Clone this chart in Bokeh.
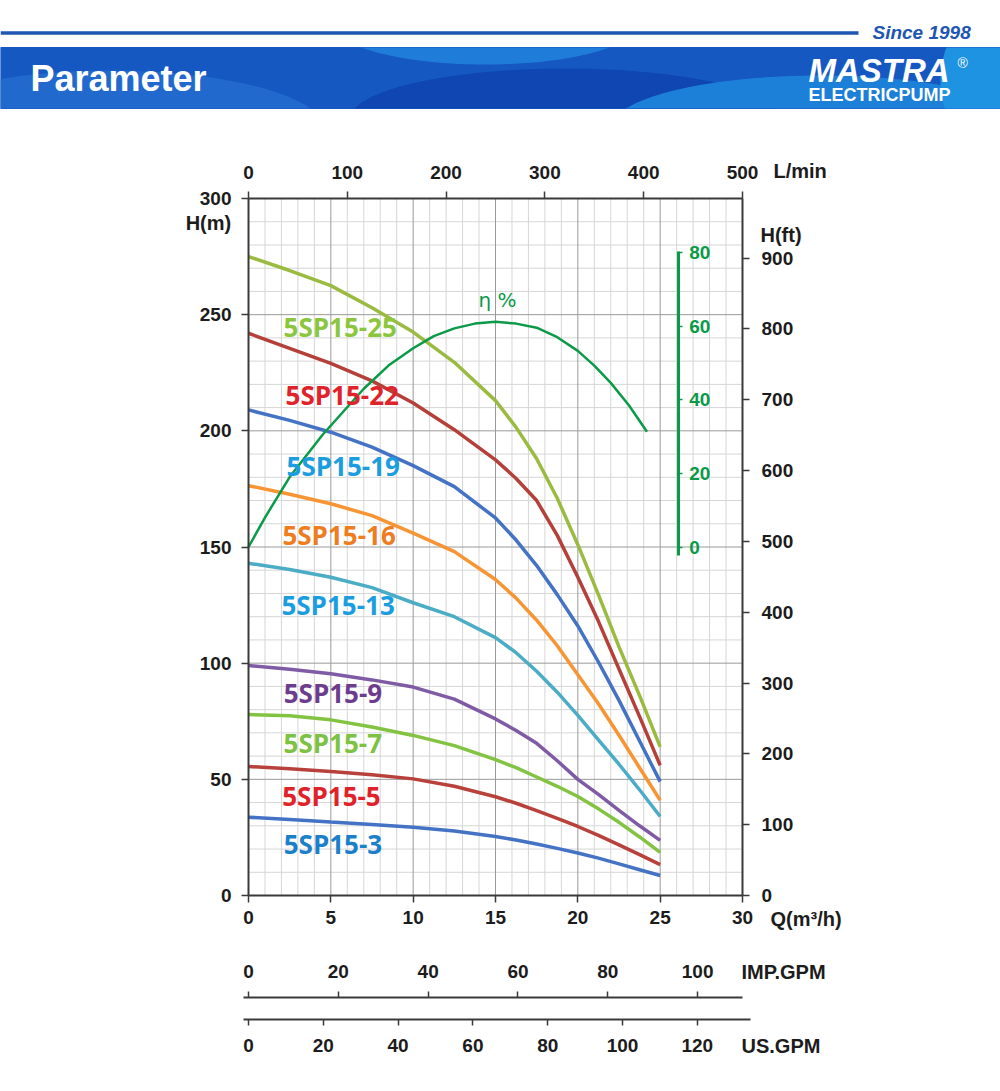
import numpy as np
from bokeh.plotting import figure
from bokeh.models import Range1d, LinearAxis, FixedTicker, ColumnDataSource
from bokeh.embed import file_html
from bokeh.resources import INLINE
from bokeh.core.properties import value

# ---------------- data ----------------
q = [0, 2.5, 5, 7.5, 10, 12.5, 15, 16.25, 17.5, 18.75, 20, 21.25, 22.5, 23.75, 25]
h_25 = [275, 269, 262.5, 253, 242.5, 229.5, 213, 201.5, 188, 171, 151, 129.5, 107, 86, 64]
h_22 = [242, 235.5, 229, 221.5, 212, 200.5, 187.5, 179.5, 170, 155, 137, 118, 97.5, 77, 56]
h_19 = [209, 204.5, 199.4, 193, 185, 176, 162.5, 153, 142, 129.5, 116, 100.5, 84, 66.5, 49]
h_16 = [176.4, 172.7, 168.6, 163.5, 156, 148, 136, 128, 118.5, 107.5, 95, 82.5, 69, 55, 41]
h_13 = [143, 140.3, 137, 132.5, 126, 120, 111, 104.5, 96.5, 87.5, 77.5, 67, 56.5, 45.5, 34]
h_9 = [99, 97.4, 95.4, 92.8, 89.7, 84.5, 76, 71, 65.5, 58, 50, 43.5, 36.6, 30, 23.7]
h_7 = [77.9, 77.4, 75.6, 72.5, 68.9, 64.5, 58.5, 55, 51, 47, 42.6, 37.3, 31.5, 25.2, 18.6]
h_5 = [55.5, 54.6, 53.4, 52, 50.2, 47, 42.5, 39.7, 36.5, 33.2, 29.7, 25.9, 21.8, 17.6, 13.3]
h_3 = [33.7, 32.7, 31.6, 30.6, 29.4, 27.8, 25.4, 23.9, 22.2, 20.3, 18.3, 16.1, 13.6, 11.1, 8.6]

models = ["5SP15-25", "5SP15-22", "5SP15-19", "5SP15-16", "5SP15-13",
          "5SP15-9", "5SP15-7", "5SP15-5", "5SP15-3"]
heads = [h_25, h_22, h_19, h_16, h_13, h_9, h_7, h_5, h_3]

q_eta = [0, 1, 2.5, 4.5, 7, 8.5, 10, 11.25, 12.5, 13.75, 15, 16.25, 17.5, 18.75, 20, 21, 22, 23.1, 24.2]
eta = [0, 8, 19, 30.5, 43, 49.3, 54, 57.3, 59.4, 60.7, 61.2, 60.7, 59.6, 57, 53.3, 49.3, 44.6, 38.5, 31.3]

q_ticks = [0, 5, 10, 15, 20, 25, 30]
q_minor = [v for v in range(0, 31) if v % 5]
h_ticks = [0, 50, 100, 150, 200, 250, 300]
h_minor = [v for v in range(0, 301, 10) if v % 50]
lmin_ticks = [0, 100, 200, 300, 400, 500]
ft_ticks = [0, 100, 200, 300, 400, 500, 600, 700, 800, 900]
eta_ticks = [0, 20, 40, 60, 80]
imp_ticks = [0, 20, 40, 60, 80, 100]
us_ticks = [0, 20, 40, 60, 80, 100, 120]

# ---------------- styles / layout ----------------
line_colors = ["#9BBB40", "#B5403A", "#4472C4", "#F79534", "#4BACC6",
               "#7F5BA6", "#82C341", "#B8413C", "#4472C4"]
label_colors = ["#8CC63F", "#E0232A", "#1B9DE0", "#EE7D1F", "#1B9DE0",
                "#6B3D8C", "#7DC242", "#E0232A", "#1C7FC9"]
label_x = [2.13, 2.25, 2.31, 2.06, 2.0, 2.14, 2.13, 2.05, 2.14]
label_y = [244.5, 215.6, 184.9, 155.3, 125.2, 87.0, 65.6, 43.0, 22.0]

ETA_GREEN = "#0A9A48"
AX = "#3a3a3a"
TXT = "#1c1c1c"
FONT = "Liberation Sans"

W, H = 1000, 1091
X0, X30 = 248.0, 742.0      # canvas x of Q = 0 and Q = 30
Y0, Y300 = 895.0, 198.0     # canvas y of H = 0 and H = 300
KX = (X30 - X0) / 30.0
KY = (Y0 - Y300) / 300.0
BAND_TOP, BAND_BOTTOM = 47, 108

M3H_PER_IMP = 4.54609 * 60 / 1000
M3H_PER_US = 3.785411784 * 60 / 1000
LMIN_PER_M3H = 1000 / 60
M_PER_ETA = 1.584
ETA_ZERO_M = 150.0


def q_at(px):
    return (px - X0) / KX


def h_at(py):
    return (Y0 - py) / KY


q_lo, q_hi = q_at(0), q_at(W)
h_lo, h_hi = h_at(H), h_at(0)

p = figure(width=W, height=H, x_range=Range1d(q_lo, q_hi), y_range=Range1d(h_lo, h_hi),
           x_axis_type=None, y_axis_type=None, min_border=0,
           output_backend="svg", toolbar_location=None, title=None)
p.outline_line_color = None
p.background_fill_color = "white"
p.border_fill_color = "white"
p.extra_x_ranges = {
    "lmin": Range1d(q_lo * LMIN_PER_M3H, q_hi * LMIN_PER_M3H),
    "imp": Range1d(q_lo / M3H_PER_IMP, q_hi / M3H_PER_IMP),
    "us": Range1d(q_lo / M3H_PER_US, q_hi / M3H_PER_US),
    "px": Range1d(0, W),
}
p.extra_y_ranges = {
    "ft": Range1d(h_lo / 0.3048, h_hi / 0.3048),
    "eta": Range1d((h_lo - ETA_ZERO_M) / M_PER_ETA, (h_hi - ETA_ZERO_M) / M_PER_ETA),
    "py": Range1d(H, 0),
}

# ---------------- header banner ----------------
PX = dict(x_range_name="px", y_range_name="py")


def blob(cx, cy, w, h):
    t = np.linspace(0, 2 * np.pi, 160)
    xs = np.clip(cx + w / 2 * np.cos(t), 0, W)
    ys = np.clip(cy + h / 2 * np.sin(t), BAND_TOP, BAND_BOTTOM)
    return list(xs), list(ys)


p.quad(left=[0], right=[W], top=[BAND_TOP], bottom=[BAND_BOTTOM], color="#1658C2", **PX)
for (cx, cy, w, h), col in [((110, 130, 430, 120), "#2169CD"),
                            ((485, 25, 300, 78), "#1F7DD9"),
                            ((565, 118, 430, 100), "#0F46B2"),
                            ((820, 128, 420, 106), "#1C80D8"),
                            ((1015, 80, 150, 170), "#1E93E2")]:
    bx, by = blob(cx, cy, w, h)
    p.patch(bx, by, color=col, line_width=0, **PX)

p.segment(x0=[0], y0=[32.5], x1=[858], y1=[32.5], line_color="#1E56B1", line_width=3.5, **PX)
p.text(x=[872], y=[32], text=["Since 1998"], text_font=value(FONT), text_font_style="bold italic",
       text_font_size="19px", text_color="#1E56B1", text_baseline="middle", text_align="left", **PX)
p.text(x=[30], y=[78], text=["Parameter"], text_font=value(FONT), text_font_style="bold",
       text_font_size="36px", text_color="white", text_baseline="middle", text_align="left", **PX)
p.text(x=[808], y=[70], text=["MASTRA"], text_font=value(FONT), text_font_style="bold italic",
       text_font_size="33px", text_color="white", text_baseline="middle", text_align="left", **PX)
p.text(x=[808], y=[94], text=["ELECTRICPUMP"], text_font=value(FONT), text_font_style="bold",
       text_font_size="18px", text_color="white", text_baseline="middle", text_align="left", **PX)
p.text(x=[957], y=[62], text=["®"], text_font=value(FONT),
       text_font_size="14px", text_color="white", text_baseline="middle", text_align="left", **PX)

# ---------------- grid ----------------
p.segment(x0=q_minor, y0=[0] * len(q_minor), x1=q_minor, y1=[300] * len(q_minor),
          line_color="#d6d6d6", line_width=1)
p.segment(x0=[0] * len(h_minor), y0=h_minor, x1=[30] * len(h_minor), y1=h_minor,
          line_color="#d6d6d6", line_width=1)
p.segment(x0=q_ticks, y0=[0] * len(q_ticks), x1=q_ticks, y1=[300] * len(q_ticks),
          line_color="#9a9a9a", line_width=1)
p.segment(x0=[0] * len(h_ticks), y0=h_ticks, x1=[30] * len(h_ticks), y1=h_ticks,
          line_color="#9a9a9a", line_width=1)


# ---------------- axes ----------------
def add_axis(side, ticks, standoff, tick_out=7, color=AX, text_color=TXT, width=2, **kw):
    ax = LinearAxis(ticker=FixedTicker(ticks=ticks), **kw)
    ax.axis_line_color = color
    ax.axis_line_width = width
    ax.major_tick_line_color = color
    ax.major_tick_line_width = 1.5
    ax.major_tick_out = tick_out
    ax.major_tick_in = 0
    ax.minor_tick_line_color = None
    ax.major_label_text_font = FONT
    ax.major_label_text_font_style = "bold"
    ax.major_label_text_font_size = "19px"
    ax.major_label_text_color = text_color
    ax.major_label_standoff = standoff
    p.add_layout(ax, side)
    return ax


add_axis("below", q_ticks, 8, fixed_location=0, bounds=(0, 30))
add_axis("left", h_ticks, 10, fixed_location=0, bounds=(0, 300))
add_axis("above", lmin_ticks, 13, x_range_name="lmin", fixed_location=300, bounds=(0, 500))
add_axis("right", ft_ticks, 12, y_range_name="ft", fixed_location=30, bounds=(0, 300 / 0.3048))
add_axis("right", eta_ticks, 7, tick_out=4, color=ETA_GREEN, text_color=ETA_GREEN, width=3,
         y_range_name="eta", fixed_location=26.1, bounds=(-2.3, 80.3))
add_axis("above", imp_ticks, 14, tick_out=6, x_range_name="imp", fixed_location=h_at(997),
         bounds=(q_at(243) / M3H_PER_IMP, 30 / M3H_PER_IMP))
add_axis("below", us_ticks, 13, tick_out=6, x_range_name="us", fixed_location=h_at(1019),
         bounds=(q_at(243) / M3H_PER_US, q_at(750) / M3H_PER_US))

# ---------------- curves ----------------
for hs, c in zip(heads, line_colors):
    p.line(q, hs, line_color=c, line_width=3.5)

p.line(q_eta, eta, y_range_name="eta", line_color=ETA_GREEN, line_width=2.5)
p.text(x=[13.97], y=[256.5], text=["η %"], text_font=value("DejaVu Sans"),
       text_font_size="20px", text_color=ETA_GREEN, text_baseline="middle", text_align="left")

lbl = ColumnDataSource(dict(x=label_x, y=label_y, text=models, color=label_colors))
p.text(x="x", y="y", text="text", text_color="color", source=lbl,
       text_font=value("Open Sans"), text_font_style="bold", text_font_size="26px",
       text_baseline="middle", text_align="left")

# ---------------- unit labels ----------------
units = ColumnDataSource(dict(
    x=[230.7, 773, 760, 770, 741, 741],
    y=[222, 170, 234, 918, 971, 1045],
    text=["H(m)", "L/min", "H(ft)", "Q(m³/h)", "IMP.GPM", "US.GPM"],
    align=["right", "left", "left", "left", "left", "left"],
))
p.text(x="x", y="y", text="text", text_align="align", source=units,
       text_font=value(FONT), text_font_style="bold", text_font_size="20px",
       text_color=TXT, text_baseline="middle", **PX)

open("out.html", "w").write(file_html(p, INLINE))
